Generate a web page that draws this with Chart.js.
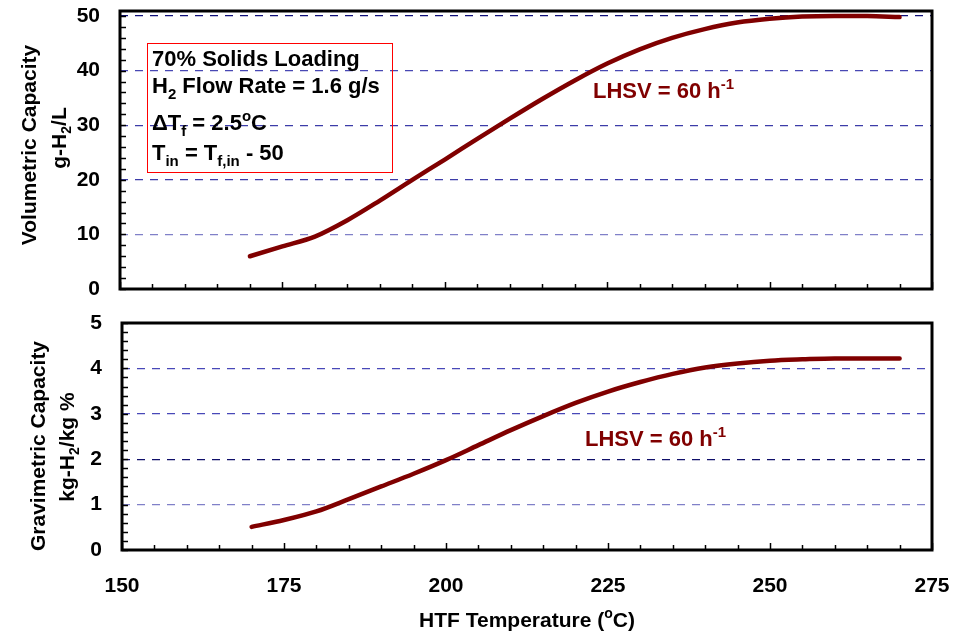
<!DOCTYPE html>
<html>
<head>
<meta charset="utf-8">
<script src="https://cdn.jsdelivr.net/npm/chart.js@4.4.0/dist/chart.umd.min.js"></script>
<style>
  html, body { margin: 0; padding: 0; background: #fff; }
  #wrap { position: relative; width: 960px; height: 634px; }
  #topChart { position: absolute; left: 0; top: 0; }
  #botChart { position: absolute; left: 0; top: 300px; }
</style>
</head>
<body>
<div id="wrap">
  <canvas id="topChart" width="960" height="300"></canvas>
  <canvas id="botChart" width="960" height="334"></canvas>
</div>
<script>
// --- DATA ---
const temps   = [170, 175, 180, 185, 190, 195, 200, 205, 210, 215, 220, 225, 230, 235, 240, 245, 250, 255, 260, 265, 270];
const volCap  = [6.0, 7.8, 9.6, 12.6, 16.2, 20.0, 23.7, 27.5, 31.2, 34.8, 38.2, 41.3, 43.9, 46.0, 47.6, 48.8, 49.5, 49.9, 50.0, 50.0, 49.8];
const gravCap = [0.51, 0.66, 0.85, 1.12, 1.40, 1.68, 1.98, 2.31, 2.64, 2.95, 3.24, 3.49, 3.70, 3.88, 4.02, 4.11, 4.17, 4.20, 4.22, 4.22, 4.22];
const xTicks    = [150, 175, 200, 225, 250, 275];
const volTicks  = [0, 10, 20, 30, 40, 50];
const gravTicks = [0, 1, 2, 3, 4, 5];

const FONT = '"Liberation Sans", Arial, sans-serif';
const RED = '#800000';

// grid colours (they differ a little per line)
const volGrid  = { 10: '#8080c8', 20: '#3c3ca8', 30: '#3c3ca8', 40: '#4848b4', 50: '#10107a' };
const gravGrid = { 1: '#8080c8', 2: '#10106a', 3: '#4848b8', 4: '#4848b8' };

// --- texte avec indices / exposants ---
function drawRich(ctx, segs, x, y, size, color) {
  let cx = x;
  ctx.fillStyle = color;
  ctx.textAlign = 'left';
  ctx.textBaseline = 'alphabetic';
  segs.forEach(s => {
    const small = s.sub || s.sup;
    const fs = small ? Math.round(size * 0.66) : size;
    ctx.font = 'bold ' + fs + 'px ' + FONT;
    let dy = 0;
    if (s.sub) dy = size * 0.28;
    if (s.sup) dy = -size * 0.42;
    ctx.fillText(s.t, cx, y + dy);
    cx += ctx.measureText(s.t).width;
  });
  return cx - x;
}
function richWidth(ctx, segs, size) {
  let w = 0;
  segs.forEach(s => {
    const fs = (s.sub || s.sup) ? Math.round(size * 0.66) : size;
    ctx.font = 'bold ' + fs + 'px ' + FONT;
    w += ctx.measureText(s.t).width;
  });
  return w;
}
function drawRotated(ctx, segs, cx, cy, size) {
  ctx.save();
  ctx.translate(cx, cy);
  ctx.rotate(-Math.PI / 2);
  const w = richWidth(ctx, segs, size);
  drawRich(ctx, segs, -w / 2, size * 0.36, size, '#000');
  ctx.restore();
}

// cadre + petites graduations vers l'intérieur
function frameAndTicks(chart, yMinorStep, yMax, frameTopExtra) {
  const ctx = chart.ctx;
  const a = chart.chartArea;
  const xs = chart.scales.x, ys = chart.scales.y;
  ctx.save();
  ctx.strokeStyle = '#000';
  ctx.lineWidth = 1.5;
  for (let v = 150; v <= 275; v += 5) {
    const px = Math.round(xs.getPixelForValue(v)) + 0.5;
    const len = (v % 25 === 0) ? 7 : 5;
    ctx.beginPath(); ctx.moveTo(px, a.bottom); ctx.lineTo(px, a.bottom - len); ctx.stroke();
  }
  for (let i = 0; i * yMinorStep <= yMax + 1e-9; i++) {
    const py = Math.round(ys.getPixelForValue(i * yMinorStep)) + 0.5;
    ctx.beginPath(); ctx.moveTo(a.left, py); ctx.lineTo(a.left + 6, py); ctx.stroke();
  }
  ctx.lineWidth = 3;
  ctx.strokeRect(a.left, a.top - frameTopExtra, a.right - a.left, a.bottom - a.top + frameTopExtra);
  ctx.restore();
}

function baseOptions(yTicks, gridMap, yWidth, xHeight, showX) {
  const yMax = yTicks[yTicks.length - 1];
  return {
    responsive: false,
    animation: false,
    devicePixelRatio: 1,
    layout: { padding: { top: 0, right: 0, bottom: 0, left: 0 } },
    plugins: { legend: { display: false }, tooltip: { enabled: false } },
    scales: {
      x: {
        type: 'linear', min: 150, max: 275,
        afterBuildTicks: s => { s.ticks = xTicks.map(v => ({ value: v })); },
        afterFit: s => { s.height = xHeight; s.paddingLeft = 0; s.paddingRight = 0; },
        grid: { display: false, drawTicks: false },
        border: { display: false },
        ticks: { display: showX, padding: 24, color: '#000', font: { family: FONT, size: 21, weight: 'bold' } }
      },
      y: {
        min: 0, max: yMax,
        afterBuildTicks: s => { s.ticks = yTicks.map(v => ({ value: v })); },
        afterFit: s => { s.width = yWidth; s.paddingTop = 0; s.paddingBottom = 0; },
        grid: {
          drawTicks: false, lineWidth: 1.3,
          color: c => gridMap[c.tick.value] || 'rgba(0,0,0,0)'
        },
        border: { display: false, dash: [8, 7] },
        ticks: { padding: 20, color: '#000', font: { family: FONT, size: 21, weight: 'bold' } }
      }
    }
  };
}

// ajuste le padding jusqu'à ce que la zone du graphique tombe au bon endroit
function pinArea(chart, t) {
  const p = { top: 0, right: 0, bottom: 0, left: 0 };
  for (let k = 0; k < 4; k++) {
    const a = chart.chartArea;
    const d = { top: t.top - a.top, bottom: a.bottom - t.bottom, left: t.left - a.left, right: a.right - t.right };
    if (Math.abs(d.top) + Math.abs(d.bottom) + Math.abs(d.left) + Math.abs(d.right) < 0.5) break;
    p.top += d.top; p.bottom += d.bottom; p.left += d.left; p.right += d.right;
    chart.options.layout.padding = { top: p.top, right: p.right, bottom: p.bottom, left: p.left };
    chart.update();
  }
}

function lineDataset(values) {
  return {
    data: temps.map((t, i) => ({ x: t, y: values[i] })),
    borderColor: RED, borderWidth: 4.5, pointRadius: 0,
    cubicInterpolationMode: 'monotone', fill: false, clip: false,
    borderCapStyle: 'round'
  };
}

// --- GRAPHIQUE DU HAUT ---
const topPlugin = {
  id: 'topDeco',
  afterDraw(chart) {
    const ctx = chart.ctx;
    frameAndTicks(chart, 2, 50, 5);
    drawRotated(ctx, [{ t: 'Volumetric Capacity' }], 28, 145, 21);
    drawRotated(ctx, [{ t: 'g-H' }, { t: '2', sub: 1 }, { t: '/L' }], 58, 138, 21);
    // boîte de conditions
    ctx.save();
    ctx.strokeStyle = '#ff0000';
    ctx.lineWidth = 1;
    ctx.strokeRect(147.5, 43.5, 245, 129);
    ctx.restore();
    drawRich(ctx, [{ t: '70% Solids Loading' }], 152, 66, 22, '#000');
    drawRich(ctx, [{ t: 'H' }, { t: '2', sub: 1 }, { t: ' Flow Rate = 1.6 g/s' }], 152, 93, 22, '#000');
    drawRich(ctx, [{ t: '\u0394T' }, { t: 'f', sub: 1 }, { t: ' = 2.5' }, { t: 'o', sup: 1 }, { t: 'C' }], 152, 130, 22, '#000');
    drawRich(ctx, [{ t: 'T' }, { t: 'in', sub: 1 }, { t: ' = T' }, { t: 'f,in', sub: 1 }, { t: ' - 50' }], 152, 160, 22, '#000');
    drawRich(ctx, [{ t: 'LHSV = 60 h' }, { t: '-1', sup: 1 }], 593, 98, 22, RED);
  }
};

const topChart = new Chart(document.getElementById('topChart'), {
  type: 'line',
  data: { datasets: [lineDataset(volCap)] },
  options: baseOptions(volTicks, volGrid, 120, 11, false),
  plugins: [topPlugin]
});
pinArea(topChart, { left: 120, top: 16, right: 932, bottom: 289 });

// --- GRAPHIQUE DU BAS ---
const botPlugin = {
  id: 'botDeco',
  afterDraw(chart) {
    const ctx = chart.ctx;
    frameAndTicks(chart, 0.2, 5, 0);
    drawRotated(ctx, [{ t: 'Gravimetric Capacity' }], 37, 146, 21);
    drawRotated(ctx, [{ t: 'kg-H' }, { t: '2', sub: 1 }, { t: '/kg %' }], 66, 147, 21);
    drawRich(ctx, [{ t: 'LHSV = 60 h' }, { t: '-1', sup: 1 }], 585, 146, 22, RED);
    // titre de l'axe x
    const segs = [{ t: 'HTF Temperature (' }, { t: 'o', sup: 1 }, { t: 'C)' }];
    const a = chart.chartArea;
    const w = richWidth(ctx, segs, 21);
    drawRich(ctx, segs, (a.left + a.right) / 2 - w / 2, 327, 21, '#000');
  }
};

const botChart = new Chart(document.getElementById('botChart'), {
  type: 'line',
  data: { datasets: [lineDataset(gravCap)] },
  options: baseOptions(gravTicks, gravGrid, 122, 84, true),
  plugins: [botPlugin]
});
pinArea(botChart, { left: 122, top: 23, right: 932, bottom: 250 });
</script>
</body>
</html>
